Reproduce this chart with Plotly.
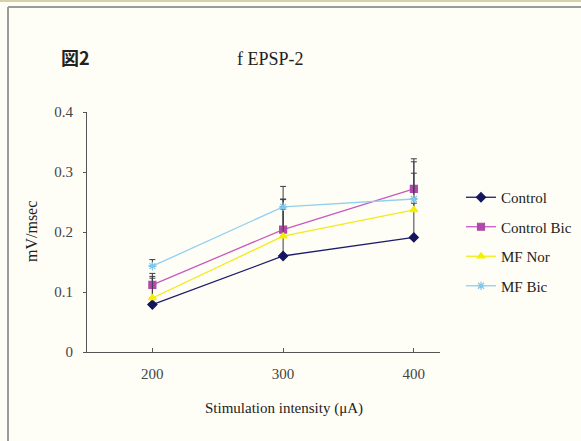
import plotly.graph_objects as go

x_vals = [200, 300, 400]
series_names = ["Control", "Control Bic", "MF Nor", "MF Bic"]
control = [0.079, 0.160, 0.191]
control_bic = [0.112, 0.204, 0.272]
mf_nor = [0.090, 0.193, 0.237]
mf_bic = [0.143, 0.242, 0.255]
control_err = [0.047, 0.078, 0.057]
control_bic_err = [0.019, 0.072, 0.050]
mf_nor_err = [0.033, 0.062, 0.080]
mf_bic_err = [0.011, 0.012, 0.043]
y_ticks = [0, 0.1, 0.2, 0.3, 0.4]
y_tick_labels = ["0", "0.1", "0.2", "0.3", "0.4"]

values = [control, control_bic, mf_nor, mf_bic]
errors = [control_err, control_bic_err, mf_nor_err, mf_bic_err]
line_colors = ["#1c1c6e", "#c658c0", "#f2ea1a", "#8fd0f0"]
marker_colors = ["#15155e", "#b04aa8", "#f5f000", "#7cc8ee"]
symbols = ["diamond", "square", "triangle-up", "asterisk-open"]

W, H = 581, 441
L, R, T, B = 87, 440, 112, 352

def px(x):
    return (x - L) / (R - L)

def py(y):
    return (B - y) / (B - T)

fig = go.Figure()
for i, (name, v, e) in enumerate(zip(series_names, values, errors)):
    fig.add_trace(go.Scatter(
        x=x_vals, y=v, name=name, mode="lines+markers",
        legendgroup=name,
        line=dict(color=line_colors[i], width=1.3),
        marker=dict(symbol=symbols[i], size=7, color=marker_colors[i],
                    line=dict(color=marker_colors[i], width=1.2)),
        error_y=dict(type="data", symmetric=False, array=e,
                     arrayminus=[0] * len(e), color="#3a3a4a",
                     thickness=1, width=3),
    ))

serif = "Liberation Serif"

def ann(text, x, y, size, family=serif, angle=0):
    return dict(text=text, x=px(x), y=py(y), xref="paper", yref="paper",
                xanchor="center", yanchor="middle", showarrow=False,
                textangle=angle, font=dict(family=family, size=size, color="#222"))

fig.update_layout(
    width=W, height=H,
    margin=dict(l=L, r=W - R, t=T, b=H - B, pad=0, autoexpand=False),
    paper_bgcolor="#fffef6",
    plot_bgcolor="#fffef6",
    showlegend=True,
    legend=dict(x=px(461), y=py(181), xanchor="left", yanchor="top",
                font=dict(family=serif, size=15, color="#222"),
                bgcolor="rgba(0,0,0,0)", tracegroupgap=7,
                itemwidth=30),
    xaxis=dict(range=[150, 420], tickvals=x_vals, ticktext=[str(v) for v in x_vals],
               showgrid=False, zeroline=False, showline=True,
               linecolor="#555", linewidth=1, ticks="inside", ticklen=4,
               tickcolor="#555", ticklabelstandoff=8,
               tickfont=dict(family=serif, size=15, color="#444")),
    yaxis=dict(range=[0, 0.4], tickvals=y_ticks, ticktext=y_tick_labels,
               showgrid=False, zeroline=False, showline=True,
               linecolor="#555", linewidth=1, ticks="outside", ticklen=3,
               tickcolor="#555", ticklabelstandoff=7,
               tickfont=dict(family=serif, size=15, color="#444")),
    annotations=[
        ann("f EPSP-2", 270, 59, 18),
        ann("<b>図2</b>", 75, 57, 18, family="Noto Sans CJK JP"),
        ann("Stimulation intensity (μA)", 284, 408, 15),
        ann("mV/msec", 31, 232, 16, angle=-90),
    ],
    shapes=[
        dict(type="line", xref="paper", yref="paper",
             x0=px(8), x1=px(581), y0=py(7), y1=py(7),
             line=dict(color="#9a9a9a", width=2)),
        dict(type="line", xref="paper", yref="paper",
             x0=px(8), x1=px(8), y0=py(7), y1=py(441),
             line=dict(color="#9a9a9a", width=2)),
        dict(type="line", xref="paper", yref="paper",
             x0=px(0), x1=px(581), y0=py(1), y1=py(1),
             line=dict(color="#d6cfa8", width=2)),
    ],
)

fig.write_html("out.html", config={"displayModeBar": False},
               post_script="document.body.style.margin='0px';document.body.style.background='#fffef6';")
